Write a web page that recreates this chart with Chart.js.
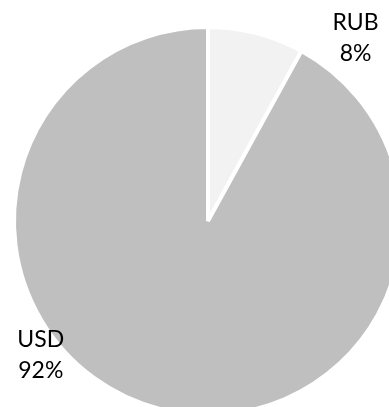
<!DOCTYPE html>
<html>
<head>
<meta charset="utf-8">
<script src="https://cdn.jsdelivr.net/npm/chart.js@4.4.1/dist/chart.umd.min.js"></script>
<style>
  html, body { margin: 0; padding: 0; background: #fff; overflow: hidden; }
  body { width: 389px; height: 407px; position: relative; }
  #wrap { position: absolute; left: 0; top: 0; width: 416px; height: 442px; }
</style>
</head>
<body>
<div id="wrap"><canvas id="pie" width="416" height="442"></canvas></div>
<script>
const currencies = ['RUB', 'USD'];
const shares = [8, 92];
const sliceColors = ['#f2f2f2', '#bfbfbf'];

// label block anchor (midway between the two baselines):
// clockwise degrees from 12 o'clock, distance in radii
const labelAnchors = [
  { angle: 40.1, dist: 1.181 },
  { angle: 229.7, dist: 1.13 }
];

const outsideLabels = {
  id: 'outsideLabels',
  afterDatasetsDraw(chart) {
    const ctx = chart.ctx;
    const arcs = chart.getDatasetMeta(0).data;
    ctx.save();
    ctx.font = '23px Lato, sans-serif';
    ctx.fillStyle = '#000';
    ctx.textAlign = 'center';
    ctx.textBaseline = 'alphabetic';
    arcs.forEach((arc, i) => {
      const a = labelAnchors[i];
      const rad = (a.angle - 90) * Math.PI / 180;
      const x = arc.x + Math.cos(rad) * arc.outerRadius * a.dist;
      const y = arc.y + Math.sin(rad) * arc.outerRadius * a.dist;
      ctx.fillText(currencies[i], x, y - 15.5);
      ctx.fillText(shares[i] + '%', x, y + 15.5);
    });
    ctx.restore();
  }
};

new Chart(document.getElementById('pie'), {
  type: 'pie',
  data: {
    labels: currencies,
    datasets: [{
      data: shares,
      backgroundColor: sliceColors,
      borderColor: '#ffffff',
      borderWidth: 4
    }]
  },
  options: {
    responsive: false,
    devicePixelRatio: 1,
    animation: false,
    layout: { padding: { left: 12, right: 12, top: 25, bottom: 25 } },
    plugins: {
      legend: { display: false },
      tooltip: { enabled: false }
    }
  },
  plugins: [outsideLabels]
});
</script>
</body>
</html>
